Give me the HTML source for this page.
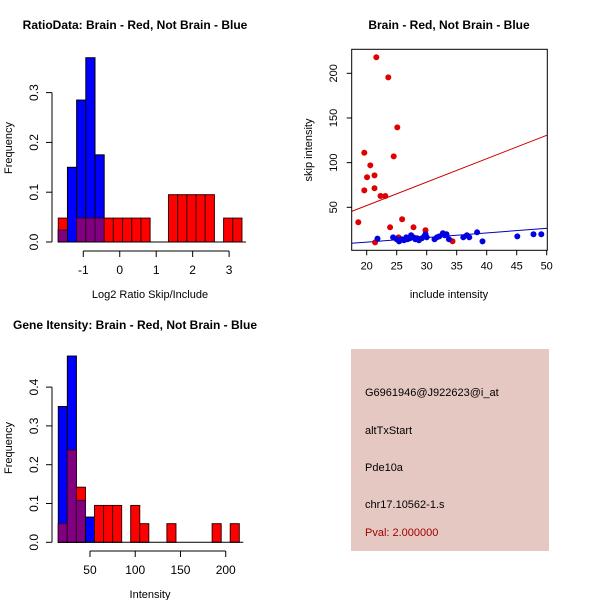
<!DOCTYPE html>
<html><head><meta charset="utf-8"><style>
html,body{margin:0;padding:0;background:#fff}
svg{display:block;font-family:"Liberation Sans",Arial,sans-serif}
</style></head><body>
<svg id="s" width="600" height="600" xmlns="http://www.w3.org/2000/svg">
<rect width="600" height="600" fill="#fff"/>
</svg>
<script>
// ---- Panel 1: ratio histogram ----
const ratioBinStart = -1.687;
const ratioBinWidth = 0.252;
const ratioBlue = [0.024,0.15,0.285,0.37,0.175,0,0,0,0,0,0,0,0,0,0,0,0,0,0,0];
const ratioRed  = [0.048,0,0.048,0.048,0.048,0.048,0.048,0.048,0.048,0.048,0,0,0.095,0.095,0.095,0.095,0.095,0,0.048,0.048];
const ratioXTicks = [-1,0,1,2,3];
const ratioYTicks = [0.0,0.1,0.2,0.3];
// ---- Panel 2: scatter ----
const redX = [18.6,19.6,19.6,20.06,20.6,21.3,21.3,21.6,21.4,22.3,23.1,23.6,23.9,24.5,25.1,25.3,25.9,27.8,29.8,34.3];
const redY = [33.2,111,69,83.6,97,85.8,71.3,218,10.8,62.7,62.7,195.5,27.6,107,139.5,16.4,36.6,27.6,24.3,12];
const blueX = [21.8,24.4,25,25.4,25.8,26.2,26.6,26.8,27.2,27.4,27.8,28.1,28.4,28.7,29.2,29.6,29.8,30,31.3,31.7,32.1,32.7,33,33.3,33.7,36.1,36.7,37.1,38.4,39.3,45.1,47.8,49.1];
const blueY = [14.9,16.4,14.2,11.9,14.2,13.1,16.4,14.2,15.3,18.7,16.4,14.2,15.3,13.1,15.3,17.5,19.8,16.4,14.2,16.4,17.5,20.9,18.7,19.8,14.2,16.4,18.7,16.4,22,11.9,17.5,19.8,19.8];
const redFit = [-0.4,2.62];   // intercept, slope
const blueFit = [0.7,0.515];
const scatXTicks = [20,25,30,35,40,45,50];
const scatYTicks = [50,100,150,200];
// ---- Panel 3: intensity histogram ----
const intBinStart = 15;
const intBinWidth = 10;
const intBlue = [0.35,0.48,0.108,0.065,0,0,0,0,0,0,0,0,0,0,0,0,0,0,0,0];
const intRed  = [0.048,0.238,0.142,0,0.095,0.095,0.095,0,0.095,0.048,0,0,0.048,0,0,0,0,0.048,0,0.048];
const intXTicks = [50,100,150,200];
const intYTicks = [0.0,0.1,0.2,0.3,0.4];
// ---- Panel 4: info ----
const infoLines = ["G6961946@J922623@i_at","altTxStart","Pde10a","chr17.10562-1.s"];
const pvalText = "Pval: 2.000000";

const svg = document.getElementById('s');
const NS = 'http://www.w3.org/2000/svg';
function mk(tag, attrs, parent){const e=document.createElementNS(NS,tag);for(const k in attrs)e.setAttribute(k,attrs[k]);(parent||svg).appendChild(e);return e;}
function txt(x,y,s,attrs,parent){const e=mk('text',Object.assign({x:x,y:y},attrs),parent);e.textContent=s;return e;}

function hist(g, xs, ys, start, w, blue, red, xt, yt, y0, xAxisY, xtickFrom, xtickTo){
  for(let i=0;i<blue.length;i++){
    const x0=xs(start+i*w), x1=xs(start+(i+1)*w);
    const b=blue[i], r=red[i], m=Math.min(b,r);
    if(b>0){const e=mk('rect',{x:x0,y:ys(b),width:x1-x0,height:ys(0)-ys(b),fill:'#0000ff',stroke:'#000','stroke-width':1},g);
      
      }
    if(r>0){const e=mk('rect',{x:x0,y:ys(r),width:x1-x0,height:ys(0)-ys(r),fill:'#ff0000',stroke:'#3a0000','stroke-width':1},g);
      
      }
    if(m>0){const e=mk('rect',{x:x0,y:ys(m),width:x1-x0,height:ys(0)-ys(m),fill:'#800080',stroke:'#3a0030','stroke-width':1},g);
      
      }
  }
  const base=mk('line',{x1:xs(start)-0.5,x2:xs(start+blue.length*w)+4,y1:ys(0),y2:ys(0),stroke:'#000'},g);
  
  
  // x axis
  const ax=mk('g',{},g);
  
  
  mk('line',{x1:xs(xt[0]),x2:xs(xt[xt.length-1]),y1:xAxisY,y2:xAxisY,stroke:'#000'},ax);
  xt.forEach(t=>{mk('line',{x1:xs(t),x2:xs(t),y1:xAxisY,y2:xAxisY+6,stroke:'#000'},ax);
    txt(xs(t),xAxisY+23,String(t),{'font-size':12,'text-anchor':'middle'},ax);});
  const ay=mk('g',{},g);
  
  
  mk('line',{x1:52,x2:52,y1:ys(yt[0]),y2:ys(yt[yt.length-1]),stroke:'#000'},ay);
  yt.forEach(t=>{mk('line',{x1:46,x2:52,y1:ys(t),y2:ys(t),stroke:'#000'},ay);
    txt(0,0,t.toFixed(1),{'font-size':12,'text-anchor':'middle',transform:`translate(38,${ys(t)}) rotate(-90)`},ay);});
}

// Panel 1
{
 const g=mk('g',{});  
 const xs=v=>83.3+(v+1)*36.45;
 const ys=v=>242-v*498;
 hist(g,xs,ys,ratioBinStart,ratioBinWidth,ratioBlue,ratioRed,ratioXTicks,ratioYTicks,0,251);
 const t=txt(135,29,'RatioData: Brain - Red, Not Brain - Blue',{'font-size':12,'font-weight':'bold','text-anchor':'middle'},g);
  
 const xl=txt(150,298,'Log2 Ratio Skip/Include',{'font-size':11,'text-anchor':'middle'},g);
  
 const yl=txt(0,0,'Frequency',{'font-size':11,'text-anchor':'middle',transform:'translate(12,148) rotate(-90)'},g);
  
}
// Panel 2
{
 const g=mk('g',{});  
 const L=351.7,R=547.3,T=49.3,B=250.3;
 const xs=v=>366.7+(v-20)*6;
 const ys=v=>207.3-(v-50)*0.8933;
 const cp=mk('clipPath',{id:'cp'},g); mk('rect',{x:L,y:T,width:R-L,height:B-T},cp);
 const pts=mk('g',{'clip-path':'url(#cp)'},g);
 [[redFit,'#cc0000'],[blueFit,'#0000bb']].forEach(([f,c],k)=>{
   const e=mk('line',{x1:xs(17),y1:ys(f[0]+f[1]*17),x2:xs(51),y2:ys(f[0]+f[1]*51),stroke:c,'stroke-width':1},pts);
   
   
 });
 redX.forEach((x,i)=>{const e=mk('circle',{cx:xs(x),cy:ys(redY[i]),r:3,fill:'#e00000'},pts);
    });
 blueX.forEach((x,i)=>{const e=mk('circle',{cx:xs(x),cy:ys(blueY[i]),r:3,fill:'#0000e0'},pts);
    });
 const box=mk('rect',{x:L,y:T,width:R-L,height:B-T,fill:'none',stroke:'#000'},g);
  
 const ax=mk('g',{},g);  
 scatXTicks.forEach(t=>{mk('line',{x1:xs(t),x2:xs(t),y1:B,y2:B+5,stroke:'#000'},ax);
   txt(xs(t),B+19,String(t),{'font-size':11,'text-anchor':'middle'},ax);});
 const ay=mk('g',{},g);  
 scatYTicks.forEach(t=>{mk('line',{x1:L-5,x2:L,y1:ys(t),y2:ys(t),stroke:'#000'},ay);
   txt(0,0,String(t),{'font-size':11,'text-anchor':'middle',transform:`translate(337,${ys(t)}) rotate(-90)`},ay);});
 const t=txt(449,29,'Brain - Red, Not Brain - Blue',{'font-size':12,'font-weight':'bold','text-anchor':'middle'},g);
  
 const xl=txt(449,298,'include intensity',{'font-size':11,'text-anchor':'middle'},g);
  
 const yl=txt(0,0,'skip intensity',{'font-size':11,'text-anchor':'middle',transform:'translate(312,150) rotate(-90)'},g);
  
}
// Panel 3
{
 const g=mk('g',{});  
 const xs=v=>58.3+(v-15)*0.905;
 const ys=v=>542.3-v*388;
 hist(g,xs,ys,intBinStart,intBinWidth,intBlue,intRed,intXTicks,intYTicks,0,551);
 const t=txt(135,329,'Gene Itensity: Brain - Red, Not Brain - Blue',{'font-size':12,'font-weight':'bold','text-anchor':'middle'},g);
  
 const xl=txt(150,598,'Intensity',{'font-size':11,'text-anchor':'middle'},g);
  
 const yl=txt(0,0,'Frequency',{'font-size':11,'text-anchor':'middle',transform:'translate(12,448) rotate(-90)'},g);
  
}
// Panel 4
{
 const g=mk('g',{});  
 mk('rect',{x:351,y:349,width:198,height:202,fill:'#e6c8c2'},g);
 const ys=[396,434,471,508];
 infoLines.forEach((s,i)=>{const e=txt(365,ys[i],s,{'font-size':11,fill:'#000'},g);
    });
 const p=txt(365,536,pvalText,{'font-size':11,fill:'#a00000'},g);
  
}
</script>
</body></html>
